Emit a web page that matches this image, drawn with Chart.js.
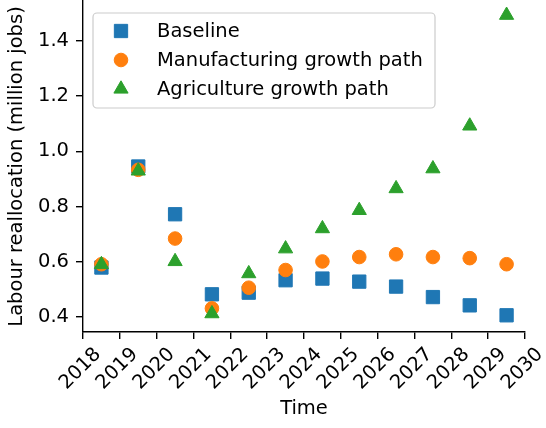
<!DOCTYPE html>
<html>
<head>
<meta charset="utf-8">
<script src="https://cdn.jsdelivr.net/npm/chart.js@4/dist/chart.umd.min.js"></script>
<style>
    html, body { margin: 0; padding: 0; background: #fff; }
    #wrap { width: 546px; height: 428px; position: relative; }
</style>
</head>
<body>
<div id="wrap"><canvas id="reallocChart"></canvas></div>
<script>
// Data
const years = [2018.5, 2019.5, 2020.5, 2021.5, 2022.5, 2023.5, 2024.5, 2025.5, 2026.5, 2027.5, 2028.5, 2029.5];
const baseline = [0.579, 0.945, 0.772, 0.482, 0.488, 0.533, 0.539, 0.528, 0.510, 0.472, 0.442, 0.406];
const manufacturing = [0.591, 0.933, 0.684, 0.431, 0.506, 0.570, 0.601, 0.617, 0.627, 0.617, 0.613, 0.591];
const agriculture = [0.590, 0.929, 0.601, 0.412, 0.557, 0.647, 0.720, 0.786, 0.865, 0.937, 1.092, 1.493];
const xTicks = [2018, 2019, 2020, 2021, 2022, 2023, 2024, 2025, 2026, 2027, 2028, 2029, 2030];
const yTicks = [0.4, 0.6, 0.8, 1.0, 1.2, 1.4];

const FONT = 'DejaVu Sans';
const FONT_SIZE = 19.5;
const blue = '#1f77b4', orange = '#ff7f0e', green = '#2ca02c';

function toPoints(ys) {
    return years.map((x, i) => ({ x: x, y: ys[i] }));
}

// matplotlib-style legend drawn inside the plot area
const insideLegend = {
    id: 'insideLegend',
    afterDraw(chart) {
        const ctx = chart.ctx;
        const area = chart.chartArea;
        const x0 = area.left + 10, y0 = area.top + 12;
        const w = 342, h = 95, rowH = 29;
        ctx.save();
        ctx.beginPath();
        ctx.roundRect(x0, y0, w, h, 4);
        ctx.fillStyle = 'rgba(255,255,255,0.8)';
        ctx.fill();
        ctx.strokeStyle = '#cccccc';
        ctx.lineWidth = 1.2;
        ctx.stroke();
        ctx.font = FONT_SIZE + 'px "' + FONT + '"';
        ctx.textBaseline = 'middle';
        ctx.textAlign = 'left';
        chart.data.datasets.forEach((ds, i) => {
            const cy = y0 + 18 + i * rowH;
            ctx.fillStyle = ds.backgroundColor;
            ctx.strokeStyle = ds.borderColor;
            ctx.lineWidth = 1;
            Chart.helpers.drawPoint(ctx, {
                pointStyle: ds.pointStyle,
                radius: ds.pointRadius,
                rotation: 0,
                borderWidth: 1
            }, x0 + 28, cy);
            ctx.fillStyle = '#000';
            ctx.fillText(ds.label, x0 + 64, cy + 1);
        });
        ctx.restore();
    }
};

const ctx = document.getElementById('reallocChart').getContext('2d');
const reallocChart = new Chart(ctx, {
    type: 'scatter',
    data: {
        datasets: [{
            label: 'Baseline',
            data: toPoints(baseline),
            pointStyle: 'rect',
            pointRadius: 9.4,
            backgroundColor: blue,
            borderColor: blue,
            borderWidth: 1,
            order: 3
        }, {
            label: 'Manufacturing growth path',
            data: toPoints(manufacturing),
            pointStyle: 'circle',
            pointRadius: 6.8,
            backgroundColor: orange,
            borderColor: orange,
            borderWidth: 1,
            order: 2
        }, {
            label: 'Agriculture growth path',
            data: toPoints(agriculture),
            pointStyle: 'triangle',
            pointRadius: 8.2,
            backgroundColor: green,
            borderColor: green,
            borderWidth: 1,
            order: 1
        }]
    },
    options: {
        responsive: true,
        maintainAspectRatio: false,
        animation: false,
        layout: {
            autoPadding: false,
            padding: { left: 0, right: 21, top: 1, bottom: 0 }
        },
        plugins: {
            legend: { display: false },
            tooltip: { enabled: false }
        },
        scales: {
            x: {
                type: 'linear',
                min: 2018,
                max: 2030,
                afterBuildTicks: scale => { scale.ticks = xTicks.map(v => ({ value: v })); },
                afterFit: scale => {
                    scale.height = 96;
                    scale.paddingLeft = 0;
                    scale.paddingRight = 0;
                },
                ticks: {
                    autoSkip: false,
                    maxRotation: 45,
                    minRotation: 45,
                    labelOffset: 15,
                    padding: 4,
                    color: '#000',
                    font: { family: FONT, size: FONT_SIZE },
                    callback: v => String(v)
                },
                grid: {
                    drawOnChartArea: false,
                    tickLength: 7,
                    color: '#000',
                    lineWidth: 1.4
                },
                border: { color: '#000', width: 1.4 },
                title: {
                    display: true,
                    text: 'Time',
                    color: '#000',
                    font: { family: FONT, size: FONT_SIZE },
                    padding: { top: 0, bottom: 7 }
                }
            },
            y: {
                min: 0.3455,
                max: 1.5445,
                afterBuildTicks: scale => { scale.ticks = yTicks.map(v => ({ value: v })); },
                afterFit: scale => {
                    scale.width = 83;
                    scale.paddingTop = 0;
                    scale.paddingBottom = 0;
                },
                ticks: {
                    padding: 7,
                    color: '#000',
                    font: { family: FONT, size: FONT_SIZE },
                    callback: v => v.toFixed(1)
                },
                grid: {
                    drawOnChartArea: false,
                    tickLength: 7,
                    color: '#000',
                    lineWidth: 1.4
                },
                border: { color: '#000', width: 1.4 },
                title: {
                    display: true,
                    text: 'Labour reallocation (million jobs)',
                    color: '#000',
                    font: { family: FONT, size: FONT_SIZE },
                    padding: { top: 5, bottom: 0 }
                }
            }
        }
    },
    plugins: [insideLegend]
});
</script>
</body>
</html>
